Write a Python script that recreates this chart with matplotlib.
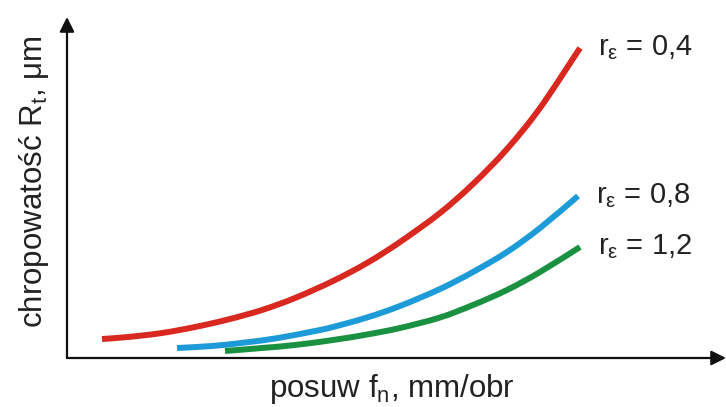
import matplotlib
matplotlib.use("Agg")
import matplotlib.pyplot as plt
from matplotlib.path import Path
from matplotlib.patches import PathPatch

plt.rcParams['font.family'] = ['Liberation Sans', 'DejaVu Sans']

# values (arbitrary units, no scale printed)
x_r04 = [0.35, 0.61, 0.95, 1.28, 1.61, 1.95, 2.28, 2.66, 3.00, 3.33, 3.73,
         4.06, 4.40, 4.73, 5.13]
y_r04 = [0.19, 0.21, 0.25, 0.31, 0.385, 0.48, 0.60, 0.77, 0.95, 1.16, 1.45,
         1.74, 2.09, 2.50, 3.10]

x_r08 = [1.10, 1.45, 1.78, 2.11, 2.48, 2.66, 3.00, 3.33, 3.73, 4.06, 4.40,
         4.73, 5.11]
y_r08 = [0.10, 0.12, 0.155, 0.20, 0.27, 0.31, 0.405, 0.52, 0.69, 0.86, 1.06,
         1.30, 1.62]

x_r12 = [1.58, 1.95, 2.28, 2.66, 3.00, 3.33, 3.73, 4.06, 4.40, 4.73, 5.13]
y_r12 = [0.07, 0.10, 0.13, 0.18, 0.235, 0.30, 0.405, 0.53, 0.68, 0.86, 1.11]

labels = ["0,4", "0,8", "1,2"]
colors = ["#d8281f", "#1d9ad8", "#1a9140"]


def smooth_path(xs, ys):
    # catmull-rom through the read points, drawn as bezier segments
    pts = list(zip(xs, ys))
    verts = [pts[0]]
    codes = [Path.MOVETO]
    for i in range(len(pts) - 1):
        p0 = pts[i - 1] if i > 0 else pts[i]
        p1 = pts[i]
        p2 = pts[i + 1]
        p3 = pts[i + 2] if i + 2 < len(pts) else pts[i + 1]
        c1 = (p1[0] + (p2[0] - p0[0]) / 6, p1[1] + (p2[1] - p0[1]) / 6)
        c2 = (p2[0] - (p3[0] - p1[0]) / 6, p2[1] - (p3[1] - p1[1]) / 6)
        verts += [c1, c2, p2]
        codes += [Path.CURVE4] * 3
    return Path(verts, codes)


fig = plt.figure(figsize=(7.26, 4.07), dpi=100)
ax = fig.add_axes([67 / 726, 49 / 407, 659 / 726, 341 / 407])
ax.set_xlim(0, 6.59)
ax.set_ylim(0, 3.41)
ax.axis('off')

for xs, ys, c, lab in zip([x_r04, x_r08, x_r12], [y_r04, y_r08, y_r12],
                          colors, labels):
    ax.add_patch(PathPatch(smooth_path(xs, ys), fill=False, edgecolor=c,
                           lw=4.3, capstyle='butt', joinstyle='round'))
    ax.annotate(r"r$_{\mathregular{ε}}$ = " + lab, xy=(xs[-1], ys[-1]),
                xytext=(13, 0), textcoords='offset points',
                fontsize=21, va='center', ha='left', color='#222222')

# axes drawn as arrows
arrow = dict(arrowstyle='-|>', lw=1.6, color='#111111', mutation_scale=22,
             shrinkA=0, shrinkB=0)
ax.annotate("", xy=(1.0, 0), xytext=(0, 0), xycoords='axes fraction',
            arrowprops=arrow)
ax.annotate("", xy=(0, 1.0), xytext=(0, 0), xycoords='axes fraction',
            arrowprops=arrow)

fig.text(392 / 726, 1 - 389 / 407, r"posuw f$_{\mathregular{n}}$, mm/obr",
         fontsize=22.5, ha='center', va='center', color='#222222')
fig.text(34 / 726, 1 - 182 / 407, "chropowatość R$_{\\mathregular{t}}$, μm",
         fontsize=22.5, ha='center', va='center', rotation=90, color='#222222')

fig.savefig("out.png", dpi=100)
